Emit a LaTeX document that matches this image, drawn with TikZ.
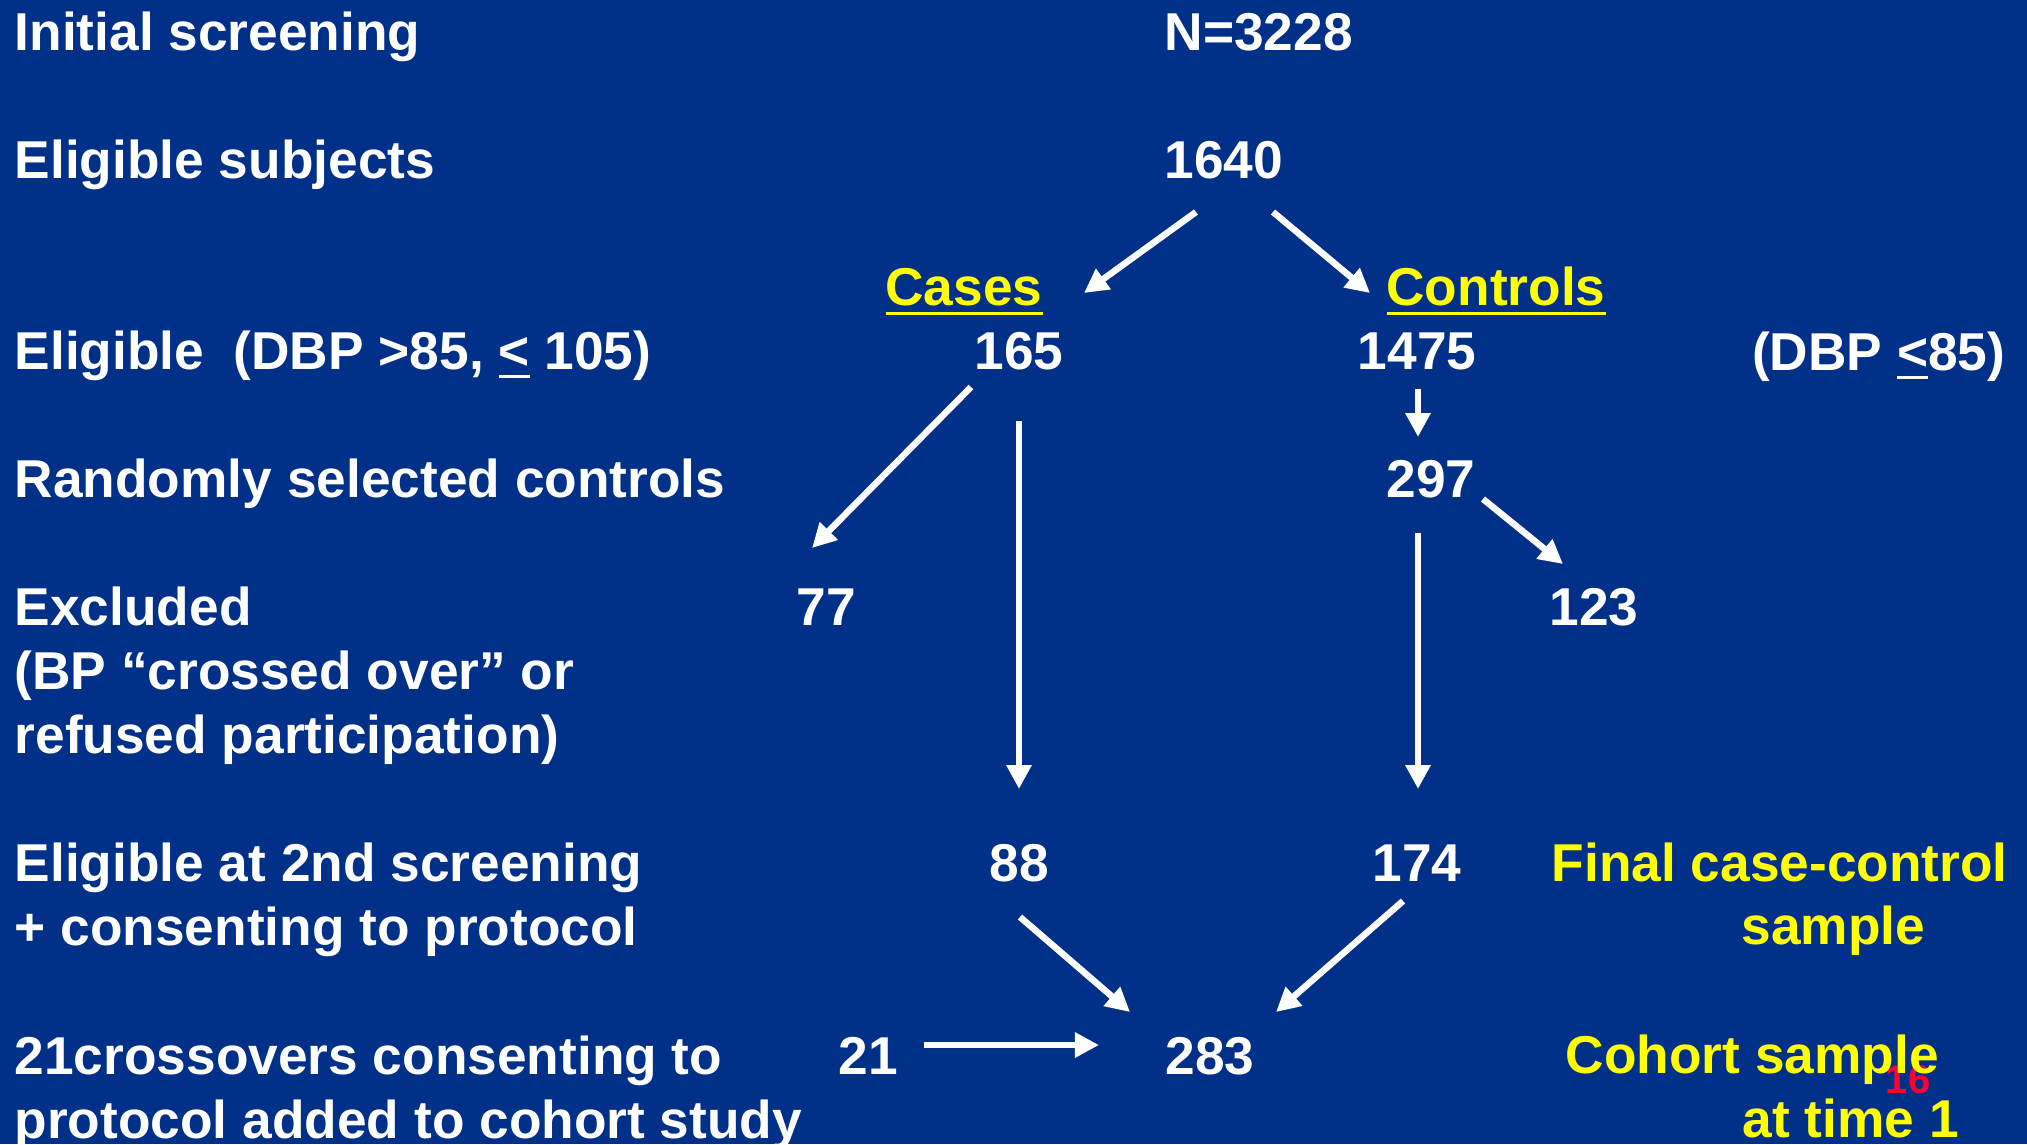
\documentclass[tikz,border=0pt]{standalone}
\usepackage{fontspec}
\setmainfont{Liberation Sans}
\usetikzlibrary{arrows.meta, calc}
\definecolor{slideblue}{RGB}{0,48,135}
\definecolor{slideyellow}{RGB}{255,255,0}
\definecolor{pagered}{RGB}{255,0,51}
\newcommand{\undl}[1]{\vtop{\hbox{#1}\kern1.7pt\hrule height0.85pt}}
\tikzset{
	txt/.style={
		inner sep=0pt,
		font=\fontsize{15.15pt}{18.2pt}\selectfont\bfseries,
		text=white,
	},
	lbl/.style={
		txt,
		anchor=base west,
		align=left,
	},
	num/.style={
		txt,
		anchor=base,
	},
	grp/.style={
		txt,
		text=slideyellow,
	},
	arr/.style={
		->,
		draw=white,
		line width=1.85pt,
	},
}

\begin{document}
\begin{tikzpicture}[x=0.01cm, y=-0.01cm, >={Triangle[length=0.24cm, width=0.24cm]}]
	
	\fill [slideblue] (0,0) rectangle (2027,1144);
	\useasboundingbox (0,0) rectangle (2027,1144);
	
	% row labels (multi-line ones sit on their last line)
	\node [lbl] (screen) at (14,50) {Initial screening};
	\node [lbl] (elig) at (14,178) {Eligible subjects};
	\node [lbl] (dbp) at (14,369) {Eligible~~(DBP >85, \undl{<} 105)};
	\node [lbl] (rand) at (14,497) {Randomly selected controls};
	\node [lbl] (excl) at (14,753) {Excluded\\(BP “crossed over” or\\refused participation)};
	\node [lbl] (second) at (14,945) {Eligible at 2nd screening\\+ consenting to protocol};
	\node [lbl] (cross) at (14,1138) {21crossovers consenting to\\protocol added to cohort study};
	
	% counts
	\node [lbl] (n3228) at (1164,50) {N=3228};
	\node [lbl] (n1640) at (1164,178) {1640};
	\node [grp, anchor=base] (cases) at (964,305) {\undl{Cases}};
	\node [grp, anchor=base] (controls) at (1496,305) {\undl{Controls}};
	\node [num] (n165) at (1019,369) {165};
	\node [num] (n1475) at (1417,369) {1475};
	\node [txt, anchor=base east] (dbpc) at (2006,370) {(DBP \undl{<}85)};
	\node [num] (n297) at (1431,497) {297};
	\node [num] (n77) at (826,625) {77};
	\node [num] (n123) at (1594,625) {123};
	\node [num] (n88) at (1019,881) {88};
	\node [num] (n174) at (1417,881) {174};
	\node [num] (n21) at (868,1074) {21};
	\node [lbl] (n283) at (1165,1074) {283};
	
	% samples
	\node [grp, anchor=base west] (final) at (1551,881) {Final case-control};
	\node [grp, anchor=base west] (finals) at (1741,944) {sample};
	\node [txt, text=pagered, anchor=base, font=\fontsize{11.4pt}{13pt}\selectfont\bfseries] (page) at (1908,1093) {16};
	\node [grp, anchor=base west] (cohort) at (1565,1073) {Cohort sample};
	\node [grp, anchor=base west] (cohortt) at (1742,1137) {at time 1};
	
	\draw [arr] ($(n1640.base west)+(32,34)$) -- ($(cases.base)+(120,-12)$);
	\draw [arr] ($(n1640.base west)+(109,34)$) -- ($(controls.base)+(-126,-12)$);
	\draw [arr] ($(n165.base)+(-48,18)$) -- ($(n77.base)+(-14,-77)$);
	\draw [arr] ($(n165.base)+(0,52)$) -- ($(n88.base)+(0,-92)$);
	\draw [arr] ($(n1475.base)+(1,20)$) -- ($(n297.base)+(-13,-60)$);
	\draw [arr] ($(n297.base)+(52,2)$) -- ($(n123.base)+(-31,-61)$);
	\draw [arr] ($(n297.base)+(-13,36)$) -- ($(n174.base)+(1,-92)$);
	\draw [arr] ($(n88.base)+(1,36)$) -- ($(n283.base west)+(-35,-62)$);
	\draw [arr] ($(n174.base)+(-14,20)$) -- ($(n283.base west)+(111,-62)$);
	\draw [arr] ($(n21.base)+(56,-29)$) -- ($(n283.base west)+(-66,-29)$);
\end{tikzpicture}
\end{document}
